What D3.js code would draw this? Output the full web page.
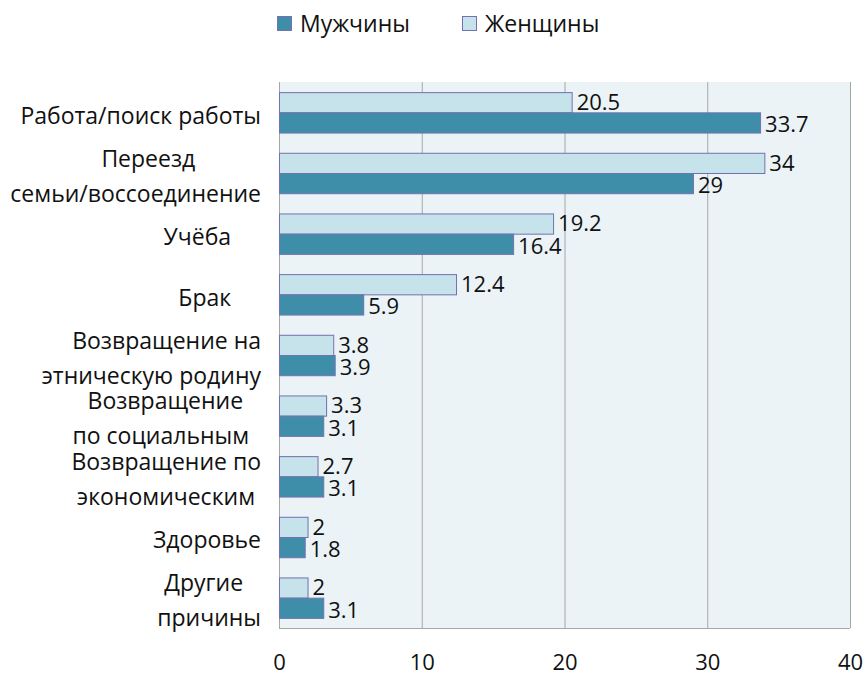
<!DOCTYPE html>
<html>
<head>
<meta charset="utf-8">
<script src="https://cdn.jsdelivr.net/npm/d3@7"></script>
<style>
  body { margin: 0; background: #fff; }
  text { font-family: "Open Sans", "Noto Sans", sans-serif; fill: #111; }
</style>
</head>
<body>
<script>
// chart data
var categories = [
  ["Работа/поиск работы"],
  ["Переезд           ", "семьи/воссоединение"],
  ["Учёба     "],
  ["Брак     "],
  ["Возвращение на", "этническую родину"],
  ["Возвращение   ", "по социальным  "],
  ["Возвращение по", "экономическим "],
  ["Здоровье"],
  ["Другие   ", "причины"]
];
var womenValues = [20.5, 34, 19.2, 12.4, 3.8, 3.3, 2.7, 2, 2];
var menValues = [33.7, 29, 16.4, 5.9, 3.9, 3.1, 3.1, 1.8, 3.1];
var seriesNames = ["Мужчины", "Женщины"];
var xTicks = [0, 10, 20, 30, 40];

var svgWidth = 866;
var svgHeight = 676;

var margin = { top: 82, right: 16, bottom: 48, left: 279 };
var chartWidth = svgWidth - margin.left - margin.right;
var chartHeight = svgHeight - margin.top - margin.bottom;

var menColor = "#3f8ea9";
var womenColor = "#c6e2ea";
var barStroke = "#7272b0";

var svg = d3.select("body")
  .append("svg")
  .attr("width", svgWidth)
  .attr("height", svgHeight);

var chartGroup = svg.append("g")
  .attr("transform", `translate(${margin.left}, ${margin.top})`);

var xScale = d3.scaleLinear()
  .domain([0, 40])
  .range([0, 571]);

var yBand = d3.scaleBand()
  .domain(d3.range(categories.length))
  .range([0, chartHeight]);

// two bars inside each category
var inner = d3.scaleBand()
  .domain(["w", "m"])
  .range([0, yBand.bandwidth()])
  .paddingInner(0)
  .paddingOuter(0.5);

// plot background
chartGroup.append("rect")
  .attr("x", 0)
  .attr("y", 0)
  .attr("width", xScale(40))
  .attr("height", chartHeight)
  .attr("fill", "#ebf3f7");

// gridlines
chartGroup.selectAll(".grid")
  .data(xTicks)
  .enter()
  .append("line")
  .attr("x1", d => xScale(d) + 0.5)
  .attr("x2", d => xScale(d) + 0.5)
  .attr("y1", 0)
  .attr("y2", chartHeight)
  .attr("stroke", "#a6a6a6")
  .attr("stroke-width", 1);

// bottom border
chartGroup.append("line")
  .attr("x1", 0)
  .attr("x2", xScale(40))
  .attr("y1", chartHeight + 0.5)
  .attr("y2", chartHeight + 0.5)
  .attr("stroke", "#a6a6a6");

// x tick labels
var bottomAxis = d3.axisBottom(xScale).tickValues(xTicks).tickSize(0).tickPadding(26);
var axisG = chartGroup.append("g")
  .attr("transform", `translate(0, ${chartHeight})`)
  .call(bottomAxis);
axisG.select(".domain").remove();
axisG.selectAll("text")
  .attr("font-size", 22)
  .attr("font-family", "\"Open Sans\", sans-serif")
  .attr("fill", "#111");

// bars
var groups = chartGroup.selectAll(".cat")
  .data(categories.map((c, i) => ({ i: i, w: womenValues[i], m: menValues[i] })))
  .enter()
  .append("g")
  .attr("class", "cat")
  .attr("transform", d => `translate(0, ${yBand(d.i)})`);

groups.append("rect")
  .attr("x", 0.5)
  .attr("y", inner("w") + 0.5)
  .attr("width", d => xScale(d.w))
  .attr("height", inner.bandwidth())
  .attr("fill", womenColor)
  .attr("stroke", barStroke);

groups.append("rect")
  .attr("x", 0.5)
  .attr("y", inner("m") + 0.5)
  .attr("width", d => xScale(d.m))
  .attr("height", inner.bandwidth())
  .attr("fill", menColor)
  .attr("stroke", barStroke);

// value labels
groups.append("text")
  .attr("x", d => xScale(d.w) + 5)
  .attr("y", inner("w") + inner.bandwidth() / 2)
  .attr("dy", "0.36em")
  .attr("font-size", 22)
  .text(d => d.w);

groups.append("text")
  .attr("x", d => xScale(d.m) + 5)
  .attr("y", inner("m") + inner.bandwidth() / 2 + 2)
  .attr("dy", "0.36em")
  .attr("font-size", 22)
  .text(d => d.m);

// category labels
var lineGap = 35;
var labels = svg.selectAll(".catLabel")
  .data(categories)
  .enter()
  .append("text")
  .attr("class", "catLabel")
  .attr("text-anchor", "end")
  .attr("font-size", 23)
  .style("white-space", "pre")
  .attr("transform", (d, i) => `translate(${margin.left - 18}, ${margin.top + yBand(i) + yBand.bandwidth() / 2 + 3})`);

labels.selectAll("tspan")
  .data(d => d.map((line, k) => ({ line: line, k: k, n: d.length })))
  .enter()
  .append("tspan")
  .attr("x", 0)
  .attr("y", d => (d.k - (d.n - 1) / 2) * lineGap)
  .attr("dy", "0.36em")
  .text(d => d.line);

// legend
var legend = svg.append("g").attr("transform", "translate(277, 16)");
var legendItems = [
  { name: seriesNames[0], color: menColor, x: 0 },
  { name: seriesNames[1], color: womenColor, x: 185 }
];
var li = legend.selectAll(".leg")
  .data(legendItems)
  .enter()
  .append("g")
  .attr("transform", d => `translate(${d.x}, 0)`);
li.append("rect")
  .attr("x", 0.5)
  .attr("y", 0.5)
  .attr("width", 14)
  .attr("height", 14)
  .attr("fill", d => d.color)
  .attr("stroke", barStroke);
li.append("text")
  .attr("x", 23)
  .attr("y", 8)
  .attr("dy", "0.36em")
  .attr("font-size", 23)
  .text(d => d.name);
</script>
</body>
</html>
